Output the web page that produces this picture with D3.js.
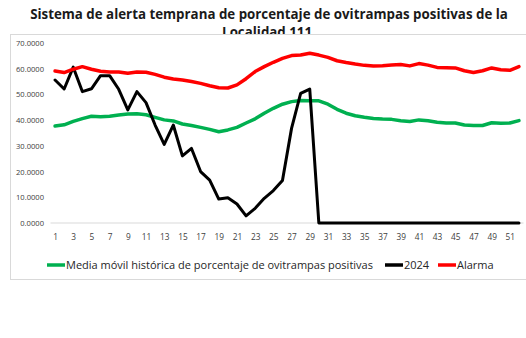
<!DOCTYPE html>
<html>
<head>
<meta charset="utf-8">
<script src="https://cdn.jsdelivr.net/npm/d3@7"></script>
<style>
  body { margin: 0; background: #fff; }
  svg { display: block; }
</style>
</head>
<body>
<svg id="chart" width="526" height="338"></svg>
<script>
// Epidemiological weeks 1..52
const weeks = d3.range(1, 53);

// Historical moving average of positive ovitrap percentage
const mediaMovil = [37.7, 38.2, 39.5, 40.6, 41.5, 41.3, 41.5, 42.0, 42.4, 42.5,
  42.1, 41.1, 40.1, 39.7, 38.5, 37.9, 37.2, 36.4, 35.5, 36.2,
  37.2, 38.9, 40.5, 42.7, 44.6, 46.2, 47.2, 47.6, 47.5, 47.5,
  46.2, 44.2, 42.7, 41.7, 41.1, 40.6, 40.4, 40.3, 39.8, 39.5,
  40.1, 39.8, 39.2, 38.9, 38.9, 38.1, 37.9, 37.9, 39.0, 38.8,
  38.9, 39.8];

// Year 2024 observed values
const serie2024 = [55.6, 52.1, 60.6, 51.1, 52.2, 57.3, 57.3, 52.0, 44.0, 51.1,
  46.8, 38.1, 30.6, 38.1, 26.1, 29.0, 20.0, 16.7, 9.3, 9.8,
  7.4, 2.8, 5.7, 9.6, 12.6, 16.5, 36.8, 50.4, 52.1, 0,
  0, 0, 0, 0, 0, 0, 0, 0, 0, 0,
  0, 0, 0, 0, 0, 0, 0, 0, 0, 0,
  0, 0];

// Alert threshold
const alarma = [59.1, 58.5, 59.8, 60.8, 59.8, 59.0, 58.7, 58.7, 58.2, 58.7,
  58.6, 57.8, 56.7, 56.0, 55.6, 55.0, 54.3, 53.4, 52.6, 52.5,
  53.7, 56.1, 58.9, 60.8, 62.5, 64.0, 65.1, 65.3, 66.0, 65.3,
  64.4, 63.1, 62.4, 61.8, 61.3, 61.1, 61.2, 61.4, 61.6, 61.1,
  62.0, 61.4, 60.5, 60.4, 60.3, 59.2, 58.5, 59.2, 60.3, 59.6,
  59.4, 60.8];

const yTicks = [0, 10, 20, 30, 40, 50, 60, 70];

const series = [
  { name: "Media móvil histórica de porcentaje de ovitrampas positivas", values: mediaMovil, color: "#00B050", width: 3.5 },
  { name: "2024", values: serie2024, color: "#000000", width: 3 },
  { name: "Alarma", values: alarma, color: "#FF0000", width: 3.5 }
];

const svg = d3.select("#chart");

// Scale a text element's font size so it spans the given width
function fitWidth(sel, target, base) {
  const len = sel.node().getComputedTextLength();
  sel.style("font-size", (base * target / len) + "px");
}

// Title (second line sits partly under the chart frame)
const titleFont = "'Open Sans', 'DejaVu Sans', sans-serif";
const t1 = svg.append("text")
  .attr("x", 269).attr("y", 19)
  .attr("text-anchor", "middle")
  .style("font-family", titleFont)
  .style("font-weight", "bold")
  .style("font-size", "13px")
  .attr("fill", "#1a1a1a")
  .text("Sistema de alerta temprana de porcentaje de ovitrampas positivas de la");
fitWidth(t1, 478, 13);
svg.append("text")
  .attr("x", 269).attr("y", 37)
  .attr("text-anchor", "middle")
  .style("font-family", titleFont)
  .style("font-weight", "bold")
  .style("font-size", t1.style("font-size"))
  .attr("fill", "#1a1a1a")
  .text("Localidad 111.");

// Chart frame
svg.append("rect")
  .attr("x", 10.5).attr("y", 34.5)
  .attr("width", 520).attr("height", 245)
  .attr("fill", "#fff")
  .attr("stroke", "#d9d9d9");

const x = d3.scalePoint().domain(weeks).range([50.5, 523.5]).padding(0.5);
const y = d3.scaleLinear().domain([0, 70]).range([223, 43]);

// Y axis labels
const yAxis = d3.axisLeft(y).tickValues(yTicks).tickSize(0).tickPadding(0)
  .tickFormat(d3.format(".4f"));
const gy = svg.append("g").attr("transform", "translate(44,0)").call(yAxis);
gy.select(".domain").remove();
gy.selectAll("text")
  .style("font-family", "'Open Sans', Arial, sans-serif")
  .style("font-size", "7.6px")
  .attr("fill", "#404040");

// X axis
const xAxis = d3.axisBottom(x).tickValues(weeks.filter(w => w % 2 === 1))
  .tickSize(0).tickPadding(11);
const gx = svg.append("g").attr("transform", "translate(0,223)").call(xAxis);
gx.select(".domain").attr("stroke", "#d9d9d9").attr("d", "M50.5,0H523.5");
gx.selectAll("text")
  .style("font-family", "'Open Sans', Arial, sans-serif")
  .style("font-size", "8.3px")
  .attr("fill", "#404040");

// Lines
const line = d3.line()
  .x((d, i) => x(weeks[i]))
  .y(d => y(d))
  .curve(d3.curveLinear);

svg.append("g").selectAll("path")
  .data(series)
  .join("path")
  .attr("d", s => line(s.values))
  .attr("fill", "none")
  .attr("stroke", s => s.color)
  .attr("stroke-width", s => s.width)
  .attr("stroke-linejoin", "round")
  .attr("stroke-linecap", "round");

// Legend
const legendY = 265;
const legendItems = [
  { s: series[0], x: 47 },
  { s: series[1], x: 385 },
  { s: series[2], x: 438 }
];
const lg = svg.append("g");
legendItems.forEach((it, i) => {
  lg.append("line")
    .attr("x1", it.x).attr("x2", it.x + 18)
    .attr("y1", legendY).attr("y2", legendY)
    .attr("stroke", it.s.color).attr("stroke-width", 3.5);
  const tx = lg.append("text")
    .attr("x", it.x + 19).attr("y", legendY + 3.8)
    .style("font-family", "'Open Sans', Arial, sans-serif")
    .style("font-size", "10px")
    .attr("fill", "#262626")
    .text(it.s.name);
  if (i === 0) fitWidth(tx, 307, 10);
  else tx.style("font-size", lg.select("text").style("font-size"));
});
</script>
</body>
</html>
